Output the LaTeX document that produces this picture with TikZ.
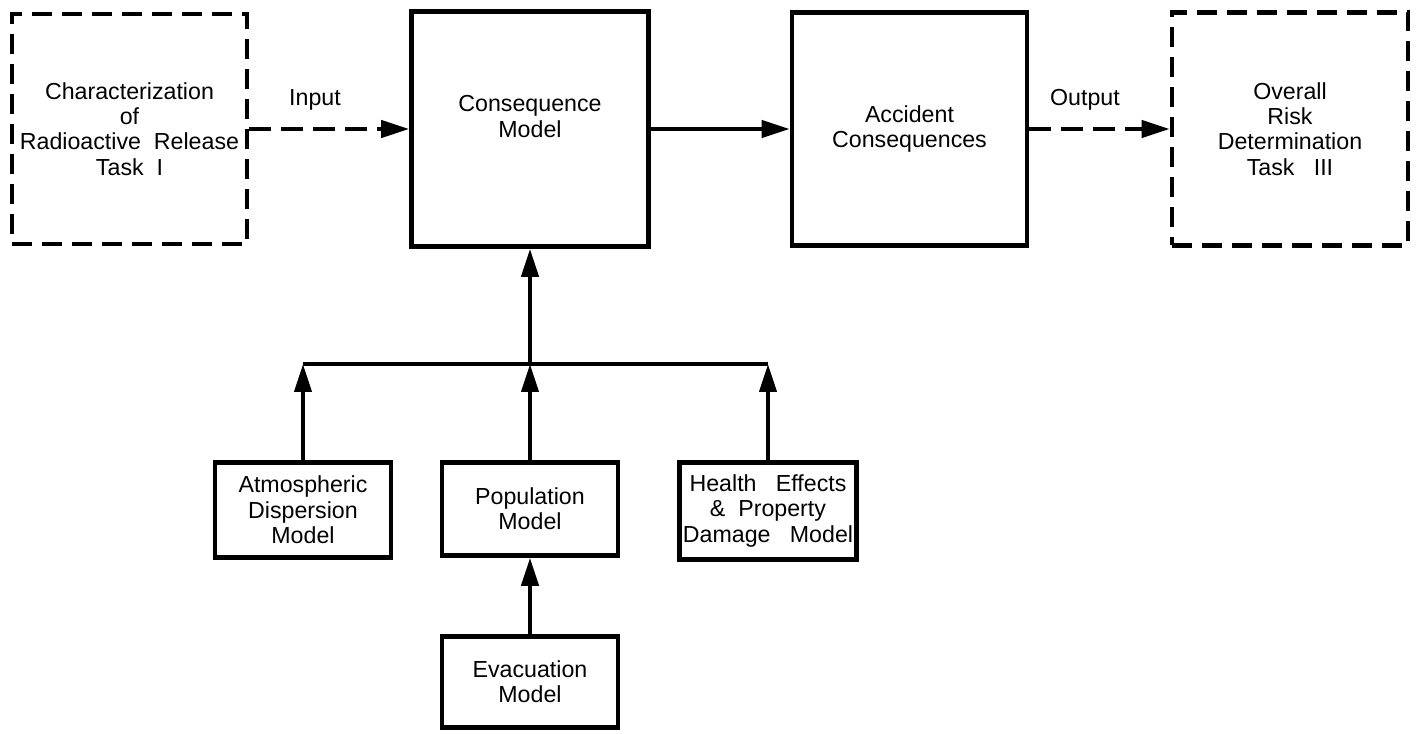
\documentclass[tikz,border=0pt]{standalone}
\usepackage{fontspec}
\setmainfont{Liberation Sans}
\usetikzlibrary{arrows.meta}
\begin{document}
\begin{tikzpicture}[line width=1.2pt,
	box/.style={draw, line width=1.3pt, align=center, inner sep=1pt,
		font=\fontsize{6.6}{7.2}\selectfont},
	taskbox/.style={box, dash pattern=on 0.2cm off 0.1cm},
	arr/.style={-{Triangle[length=0.28cm,width=0.17cm]}},
	dasharr/.style={arr, dash pattern=on 0.22cm off 0.1cm},
	lbl/.style={font=\fontsize{6.6}{7.2}\selectfont}]
				\useasboundingbox (0,0) rectangle (14.19,-7.34);
				% top row
				\node[taskbox, minimum width=2.35cm, minimum height=2.30cm] (release) at (1.295,-1.29)
					{Characterization\\of\\Radioactive\ \ Release\\Task\ \ I};
				\node[box, minimum width=2.37cm, minimum height=2.35cm] (conseq) at (5.30,-1.29)
					{Consequence\\Model\\\mbox{}};
				\node[box, minimum width=2.35cm, minimum height=2.33cm] (accident) at (9.095,-1.29)
					{Accident\\Consequences};
				\node[taskbox, minimum width=2.36cm, minimum height=2.33cm] (risk) at (12.90,-1.29)
					{Overall\\Risk\\Determination\\Task\ \ \ III};
				
				% sub models
				\node[box, minimum width=1.76cm, minimum height=0.95cm] (atmos) at (3.03,-5.10)
					{Atmospheric\\Dispersion\\Model};
				\node[box, minimum width=1.76cm, minimum height=0.93cm] (popul) at (5.30,-5.09)
					{Population\\Model};
				\node[box, minimum width=1.75cm, minimum height=0.97cm] (health) at (7.68,-5.11)
					{Health\ \ \ Effects\\\&\ \ Property\\Damage\ \ \ Model};
				\node[box, minimum width=1.76cm, minimum height=0.91cm] (evac) at (5.30,-6.82)
					{Evacuation\\Model};
				
				% input / output
				\draw[dasharr] (release.east) -- (conseq.west);
				\node[lbl] (inlbl) at (3.15,-1.0) {Input};
				\draw[arr] (conseq.east) -- (accident.west);
				\draw[dasharr] (accident.east) -- (risk.west);
				\node[lbl] (outlbl) at (10.85,-1.0) {Output};
				
				% collecting line
				\coordinate (bus) at (5.30,-3.64);
				\draw (atmos.north |- bus) -- (health.north |- bus);
				\draw[arr] (bus) -- (conseq.south);
				\draw[arr] (atmos.north) -- (atmos.north |- bus);
				\draw[arr] (popul.north) -- (bus);
				\draw[arr] (health.north) -- (health.north |- bus);
				\draw[arr] (evac.north) -- (popul.south);
			\end{tikzpicture}
\end{document}
